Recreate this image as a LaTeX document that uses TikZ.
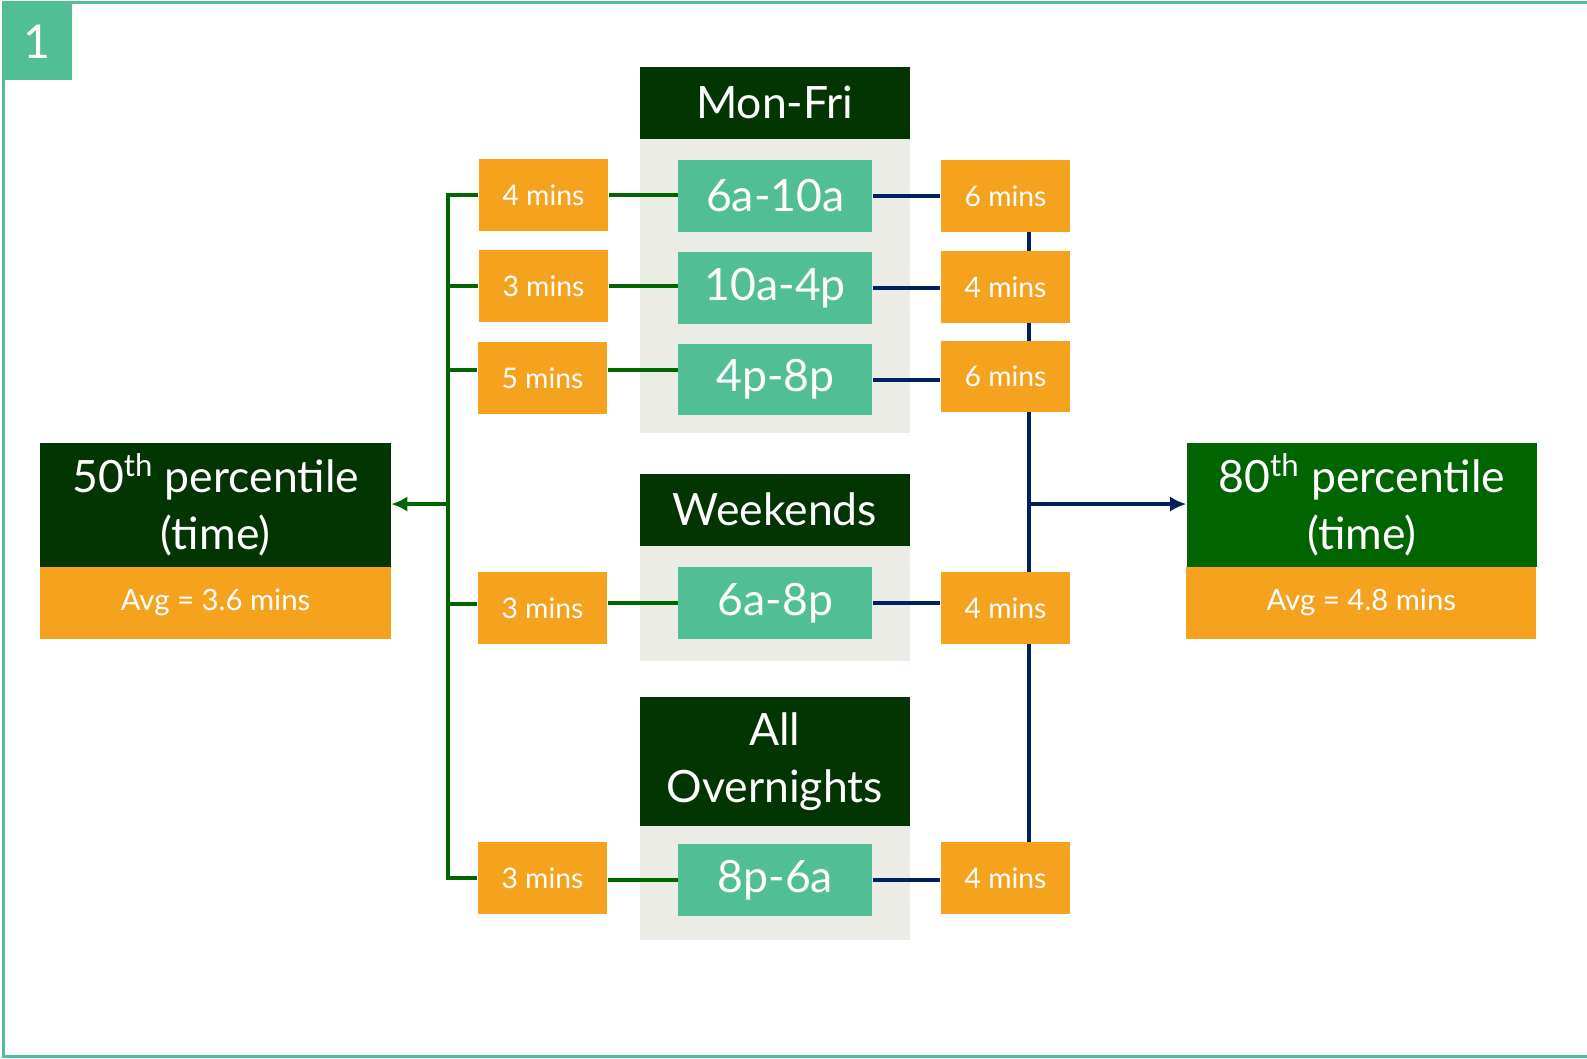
\documentclass[tikz,border=0pt]{standalone}
\usepackage{fontspec}
\setmainfont{Lato}
\usetikzlibrary{arrows.meta}
\pgfdeclarelayer{panels}
\pgfdeclarelayer{lines}
\pgfsetlayers{panels,lines,main}
\definecolor{tealc}{RGB}{82,190,150}
\definecolor{hdrc}{RGB}{3,53,3}
\definecolor{pgreen}{RGB}{0,100,0}
\definecolor{orangec}{RGB}{245,162,30}
\definecolor{grayc}{RGB}{235,236,230}
\definecolor{glinec}{RGB}{0,102,0}
\definecolor{blinec}{RGB}{0,32,96}
\tikzset{
  box/.style={inner sep=0pt, text=white, align=center},
  orangebox/.style={box, fill=orangec, minimum width=64pt, minimum height=35.5pt, font=\fontsize{14}{16}\selectfont},
  tealbox/.style={box, fill=tealc, minimum width=96pt, minimum height=35.5pt, font=\fontsize{22}{24}\selectfont},
  hdr/.style={box, fill=hdrc, minimum width=133.5pt, font=\fontsize{22}{28.5}\selectfont},
  panel/.style={box, fill=grayc, minimum width=133.5pt},
  pctbox/.style={box, minimum width=173pt, minimum height=61pt, font=\fontsize{22}{28.5}\selectfont},
  avgbox/.style={box, fill=orangec, minimum width=173pt, minimum height=35.5pt, font=\fontsize{14.5}{17}\selectfont},
  gline/.style={draw=glinec, line width=2pt},
  bline/.style={draw=blinec, line width=2pt},
  tip/.style={-{Latex[length=8pt,width=7.5pt]}}
}
\begin{document}
\begin{tikzpicture}[x=0.5pt,y=-0.5pt]
\useasboundingbox (0,0) rectangle (1568,1046);
% frame
\draw[draw=tealc, line width=1.5pt] (1580,2) -- (3,2) -- (3,1044) -- (1580,1044);
\node[box, fill=tealc, minimum width=34pt, minimum height=38pt, font=\fontsize{23}{24}\selectfont] (tag) at (37,41) {1};

% panels
\begin{pgfonlayer}{panels}
\node[panel, minimum height=145.5pt] (g1) at (765.5,282.5) {};
\node[panel, minimum height=57pt] (g2) at (765.5,596) {};
\node[panel, minimum height=56.5pt] (g3) at (765.5,872.5) {};
\end{pgfonlayer}
\node[hdr, minimum height=35.5pt] (h1) at (765.5,101.5) {Mon-Fri};
\node[hdr, minimum height=35.5pt] (h2) at (765.5,503.5) {Weekends};
\node[hdr, minimum height=63.5pt] (h3) at (765.5,752.5) {All\\Overnights};

% teal boxes
\node[tealbox] (t1) at (766,193.5) {6a-10a};
\node[tealbox] (t2) at (766,284.5) {10a-4p};
\node[tealbox] (t3) at (766,375) {4p-8p};
\node[tealbox] (t4) at (766,595.5) {6a-8p};
\node[tealbox] (t5) at (766,869.5) {8p-6a};

% left orange
\node[orangebox] (l1) at (537,192.5) {4 mins};
\node[orangebox] (l2) at (537,282.5) {3 mins};
\node[orangebox] (l3) at (536,373.5) {5 mins};
\node[orangebox] (l4) at (536,600.5) {3 mins};
\node[orangebox] (l5) at (536,867.5) {3 mins};

% right orange
\node[orangebox] (r1) at (993.5,193.5) {6 mins};
\node[orangebox] (r2) at (993.5,283.5) {4 mins};
\node[orangebox] (r3) at (993.5,372) {6 mins};
\node[orangebox] (r4) at (993.5,600.5) {4 mins};
\node[orangebox] (r5) at (993.5,867.5) {4 mins};

% percentile boxes
\node[pctbox, fill=hdrc] (p50) at (213,499) {50\textsuperscript{th} percentile\\(time)};
\node[avgbox] (a50) at (213,595.5) {Avg = 3.6 mins};
\node[pctbox, fill=pgreen] (p80) at (1345.5,499) {80\textsuperscript{th} percentile\\(time)};
\node[avgbox] (a80) at (1345,595.5) {Avg = 4.8 mins};

% spines
\coordinate (gs) at (443,498);
\coordinate (bs) at (1017,498);

\begin{pgfonlayer}{lines}
% green connectors
\draw[gline] (l1.west) -- (l1.west -| gs) -- (l5.west -| gs) -- (l5.west);
\draw[gline] (l2.west) -- (l2.west -| gs);
\draw[gline] ([yshift=4pt]l3.west) -- ([yshift=4pt]l3.west -| gs);
\draw[gline] ([yshift=2pt]l4.west) -- ([yshift=2pt]l4.west -| gs);
\draw[gline] (l1.east) -- (l1.east -| t1.west);
\draw[gline] (l2.east) -- (l2.east -| t2.west);
\draw[gline] ([yshift=4pt]l3.east) -- ([yshift=4pt]l3.east -| t3.west);
\draw[gline] (t4.west -| l4.east) -- (t4.west);
\draw[gline] (t5.west -| l5.east) -- (t5.west);
\draw[gline, tip] (gs) -- (gs -| p50.east);

% blue connectors
\draw[bline] (r1.south -| bs) -- (r5.north -| bs);
\draw[bline] (t1.east) -- (t1.east -| r1.west);
\draw[bline] (t2.east) -- (t2.east -| r2.west);
\draw[bline] (t3.east) -- (t3.east -| r3.west);
\draw[bline] (t4.east) -- (t4.east -| r4.west);
\draw[bline] (t5.east) -- (t5.east -| r5.west);
\draw[bline, tip] (bs) -- (bs -| p80.west);
\end{pgfonlayer}
\end{tikzpicture}
\end{document}
